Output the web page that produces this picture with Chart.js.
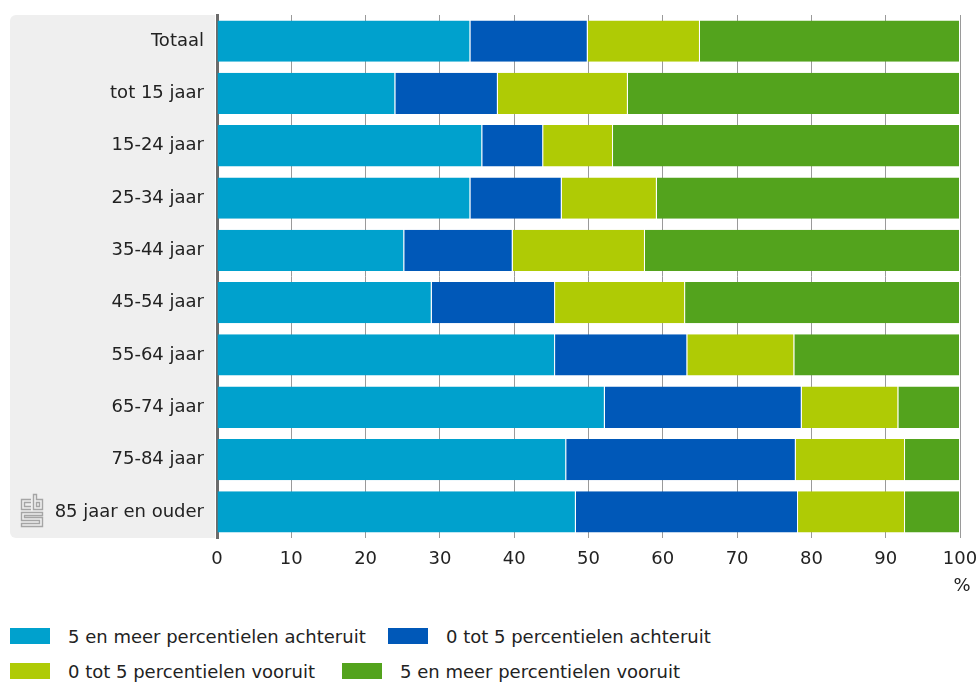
<!DOCTYPE html>
<html>
<head>
<meta charset="utf-8">
<script src="https://cdn.jsdelivr.net/npm/chart.js@4/dist/chart.umd.min.js"></script>
<style>
  body { margin: 0; background: #fff; font-family: "DejaVu Sans", sans-serif; }
  #wrap { position: relative; width: 978px; height: 682px; }
  #chart { position: absolute; left: 0; top: 0; }
  .item { position: absolute; font-size: 18px; color: #222; display: flex; align-items: center; white-space: nowrap; height: 20px; }
  .item .box { width: 40px; height: 16px; margin-right: 18px; }
</style>
</head>
<body>
<div id="wrap">
  <canvas id="chart" width="978" height="610"></canvas>
  <div class="item" style="left:10px;top:626px"><span class="box" style="background:#00a1cd"></span>5 en meer percentielen achteruit</div>
  <div class="item" style="left:388px;top:626px"><span class="box" style="background:#0058b8"></span>0 tot 5 percentielen achteruit</div>
  <div class="item" style="left:10px;top:661px"><span class="box" style="background:#afcb05"></span>0 tot 5 percentielen vooruit</div>
  <div class="item" style="left:342px;top:661px"><span class="box" style="background:#53a31d"></span>5 en meer percentielen vooruit</div>
</div>
<script>
const categories = ['Totaal', 'tot 15 jaar', '15-24 jaar', '25-34 jaar', '35-44 jaar',
  '45-54 jaar', '55-64 jaar', '65-74 jaar', '75-84 jaar', '85 jaar en ouder'];
const achteruit5Plus = [34.1, 24.0, 35.7, 34.1, 25.2, 28.9, 45.5, 52.2, 47.0, 48.3];
const achteruit0tot5 = [15.8, 13.8, 8.2, 12.3, 14.6, 16.6, 17.8, 26.5, 30.9, 29.9];
const vooruit0tot5 = [15.1, 17.5, 9.4, 12.8, 17.8, 17.5, 14.4, 13.0, 14.7, 14.4];
const vooruit5Plus = [35.0, 44.7, 46.7, 40.8, 42.4, 37.0, 22.3, 8.3, 7.4, 7.4];
const xTicks = [0, 10, 20, 30, 40, 50, 60, 70, 80, 90, 100];

const FONT = '"DejaVu Sans", sans-serif';

// grey panel behind the labels, cbs logo and % unit
const decor = {
  id: 'decor',
  beforeDraw(chart) {
    const ctx = chart.ctx;
    const a = chart.chartArea;
    ctx.save();
    ctx.fillStyle = '#efefef';
    ctx.beginPath();
    ctx.roundRect(10, a.top, a.left - 12, a.bottom - a.top, [6, 0, 0, 6]);
    ctx.fill();
    ctx.restore();
  },
  afterDraw(chart) {
    const ctx = chart.ctx;
    const a = chart.chartArea;
    ctx.save();
    ctx.fillStyle = '#222';
    ctx.font = '18px ' + FONT;
    ctx.textAlign = 'center';
    ctx.textBaseline = 'middle';
    ctx.fillText('%', a.right + 2, a.bottom + 48);

    // logo
    ctx.strokeStyle = '#a5a5a5';
    ctx.lineWidth = 1.4;
    ctx.beginPath();
    // c
    ctx.moveTo(31, 499.5); ctx.lineTo(21.5, 499.5); ctx.lineTo(21.5, 509.5); ctx.lineTo(31, 509.5);
    ctx.moveTo(31, 502.5); ctx.lineTo(24.5, 502.5); ctx.lineTo(24.5, 506.5); ctx.lineTo(31, 506.5);
    // b
    ctx.moveTo(33.5, 494.5); ctx.lineTo(33.5, 509.5); ctx.lineTo(42.5, 509.5); ctx.lineTo(42.5, 499.5); ctx.lineTo(36.5, 499.5); ctx.lineTo(36.5, 494.5); ctx.closePath();
    ctx.rect(36.5, 502.5, 3, 4);
    // S
    ctx.moveTo(42.5, 512.5); ctx.lineTo(21.5, 512.5); ctx.lineTo(21.5, 520.5); ctx.lineTo(39.5, 520.5); ctx.lineTo(39.5, 523.5); ctx.lineTo(21.5, 523.5); ctx.lineTo(21.5, 526.5);
    ctx.lineTo(42.5, 526.5); ctx.lineTo(42.5, 517.5); ctx.lineTo(24.5, 517.5); ctx.lineTo(24.5, 515.5); ctx.lineTo(42.5, 515.5); ctx.closePath();
    ctx.stroke();
    ctx.restore();
  }
};

function ds(label, data, color) {
  return {
    label, data,
    backgroundColor: color,
    borderColor: '#ffffff',
    borderWidth: { right: 1, left: 0, top: 0, bottom: 0 },
    borderSkipped: false,
    categoryPercentage: 1,
    barPercentage: 0.79
  };
}

new Chart(document.getElementById('chart'), {
  type: 'bar',
  data: {
    labels: categories,
    datasets: [
      ds('5 en meer percentielen achteruit', achteruit5Plus, '#00a1cd'),
      ds('0 tot 5 percentielen achteruit', achteruit0tot5, '#0058b8'),
      ds('0 tot 5 percentielen vooruit', vooruit0tot5, '#afcb05'),
      ds('5 en meer percentielen vooruit', vooruit5Plus, '#53a31d')
    ]
  },
  options: {
    indexAxis: 'y',
    responsive: false,
    animation: false,
    layout: { padding: { top: 15, right: 18, left: 0, bottom: 0 } },
    plugins: { legend: { display: false }, tooltip: { enabled: false } },
    scales: {
      x: {
        stacked: true,
        min: 0,
        max: 100,
        afterBuildTicks(s) { s.ticks = xTicks.map(v => ({ value: v })); },
        afterFit(s) { s.height = 72; s.paddingLeft = 0; s.paddingRight = 0; },
        grid: { color: '#9a9a9a', lineWidth: 1, drawTicks: false },
        border: { display: false },
        ticks: { padding: 11, color: '#222', font: { family: FONT, size: 18 } }
      },
      y: {
        stacked: true,
        afterFit(s) { s.width = 217; s.paddingTop = 0; s.paddingBottom = 0; },
        grid: { display: false, drawTicks: false },
        border: { display: true, color: '#6b6b6b', width: 3 },
        ticks: { padding: 13, color: '#222', font: { family: FONT, size: 18 } }
      }
    }
  },
  plugins: [decor]
});
</script>
</body>
</html>
